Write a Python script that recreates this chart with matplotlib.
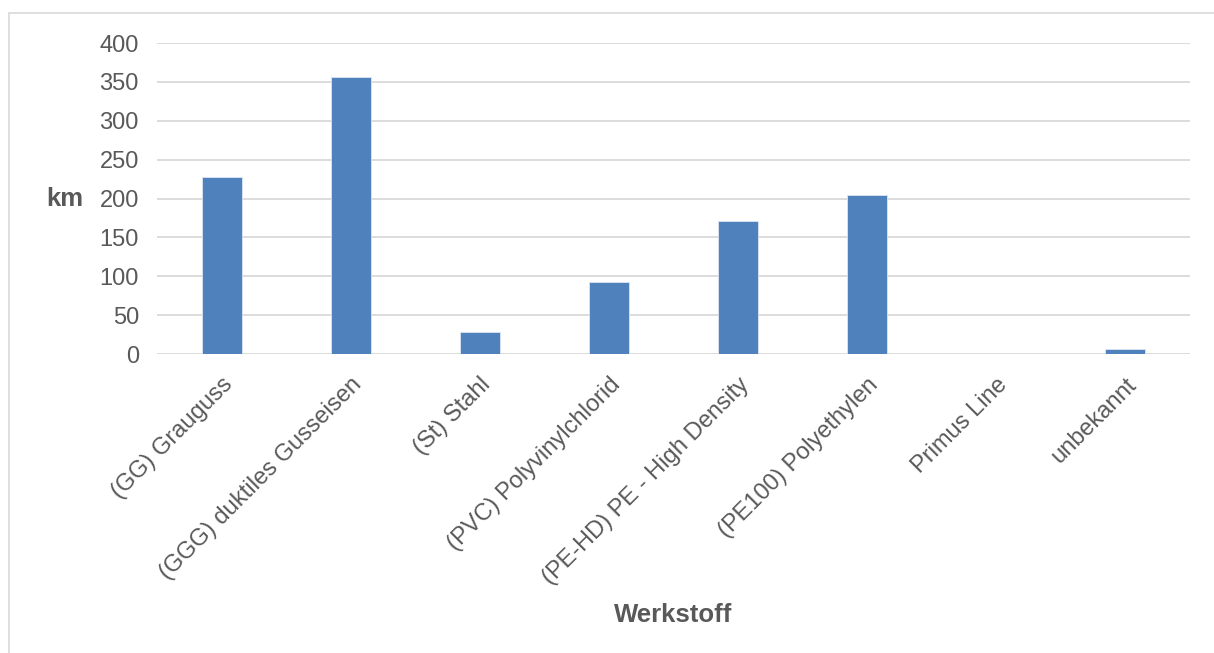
import matplotlib.pyplot as plt
from matplotlib.patches import Rectangle

werkstoffe = ['(GG) Grauguss', '(GGG) duktiles Gusseisen', '(St) Stahl',
              '(PVC) Polyvinylchlorid', '(PE-HD) PE - High Density',
              '(PE100) Polyethylen', 'Primus Line', 'unbekannt']
laenge_km = [228, 356, 28, 93, 171, 204, 0.4, 7]
yticks = [0, 50, 100, 150, 200, 250, 300, 350, 400]

plt.rcParams['font.family'] = ['Liberation Sans', 'DejaVu Sans']

fig = plt.figure(figsize=(12.14, 6.53), dpi=100)
ax = fig.add_axes([157 / 1214, 1 - 354 / 653, (1190 - 157) / 1214, (354 - 43) / 653])

x = range(len(werkstoffe))
ax.bar(x, laenge_km, width=0.31, color='#4f81bd', edgecolor='#dce6f2',
       linewidth=0.6, zorder=3)

ax.set_xlim(-0.5, len(werkstoffe) - 0.5)
ax.set_ylim(0, 400)
ax.set_yticks(yticks)
ax.set_yticklabels([str(v) for v in yticks])
ax.grid(axis='y', color='#d9d9d9', linewidth=1.3, zorder=0)
ax.tick_params(axis='y', length=0, pad=13, labelsize=17, labelcolor='#595959')
ax.tick_params(axis='x', length=0, pad=14)
for s in ax.spines.values():
    s.set_visible(False)

ax.set_xticks(list(x))
ax.set_xticklabels(werkstoffe, rotation=45, ha='right', va='top',
                   rotation_mode='anchor', fontsize=17, color='#595959')

fig.text(65 / 1214, 1 - 199 / 653, 'km', fontsize=18.5, fontweight='bold',
         color='#595959', ha='center', va='center')
fig.text(673 / 1214, 1 - 615 / 653, 'Werkstoff', fontsize=18.5,
         fontweight='bold', color='#595959', ha='center', va='center')

# heller Rahmen der Diagrammflaeche (rechts/unten abgeschnitten)
fig.patches.append(Rectangle((9 / 1214, -0.1), 1.2, 1 - 13 / 653 + 0.1,
                             transform=fig.transFigure, fill=False,
                             edgecolor='#d9d9d9', linewidth=1.2))

fig.savefig('out.png', dpi=100)
